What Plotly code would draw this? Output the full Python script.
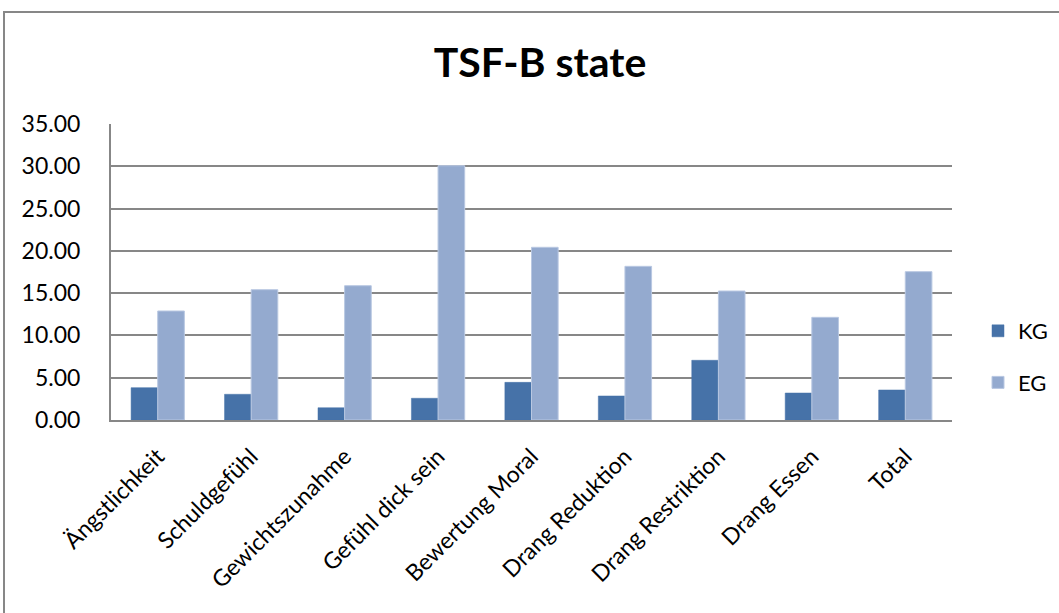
import plotly.graph_objects as go

categories = ["Ängstlichkeit", "Schuldgefühl", "Gewichtszunahme", "Gefühl dick sein",
              "Bewertung Moral", "Drang Reduktion", "Drang Restriktion", "Drang Essen", "Total"]
kg_values = [3.82, 3.04, 1.45, 2.57, 4.45, 2.84, 7.06, 3.19, 3.55]
eg_values = [12.89, 15.41, 15.88, 30.07, 20.42, 18.17, 15.25, 12.14, 17.54]
y_ticks = [0, 5, 10, 15, 20, 25, 30, 35]

FONT = "Lato"
GRID = "#878787"

fig = go.Figure()
fig.add_trace(go.Bar(name="KG", x=categories, y=kg_values, legendgroup="kg",
                     marker=dict(color="#4672A8", line=dict(color="#4672A8", width=0.5))))
fig.add_trace(go.Bar(name="EG", x=categories, y=eg_values, legendgroup="eg",
                     marker=dict(color="#94AACF", line=dict(color="#B9C8E2", width=1))))

W, H = 1059, 613
L, R, T, B = 111, 107, 124, 193
pw, ph = W - L - R, H - T - B

fig.update_layout(
    width=W, height=H,
    margin=dict(l=L, r=R, t=T, b=B, pad=0, autoexpand=False),
    paper_bgcolor="white", plot_bgcolor="white",
    barmode="group", bargap=0.43, bargroupgap=0,
    font=dict(family=FONT, color="black", size=22),
    title=dict(text="<b>TSF-B state</b>", x=540 / W, xanchor="center",
               y=1 - 63 / H, yanchor="middle",
               font=dict(family=FONT, size=41, color="black")),
    showlegend=True,
    legend=dict(x=(978 - L) / pw, y=(420 - 357) / ph, xanchor="left", yanchor="middle",
                font=dict(family=FONT, size=22), itemwidth=30, tracegroupgap=20,
                bgcolor="rgba(0,0,0,0)"),
    xaxis=dict(showline=True, linecolor=GRID, linewidth=2, tickangle=-45,
               ticks="", ticklabelstandoff=12, tickfont=dict(size=23), showgrid=False),
    yaxis=dict(range=[0, 35], tickvals=y_ticks, tickformat=".2f",
               showline=True, linecolor=GRID, linewidth=2,
               showgrid=True, gridcolor=GRID, gridwidth=2,
               zeroline=False, ticks="", ticklabelstandoff=24,
               tickfont=dict(size=23)),
    shapes=[dict(type="rect", xref="paper", yref="paper",
                 x0=(4 - L) / pw, x1=(W + 20 - L) / pw,
                 y0=(420 - (H + 20)) / ph, y1=(420 - 12) / ph,
                 line=dict(color=GRID, width=2), fillcolor="rgba(0,0,0,0)", layer="below")],
)

fig.write_html("out.html")
